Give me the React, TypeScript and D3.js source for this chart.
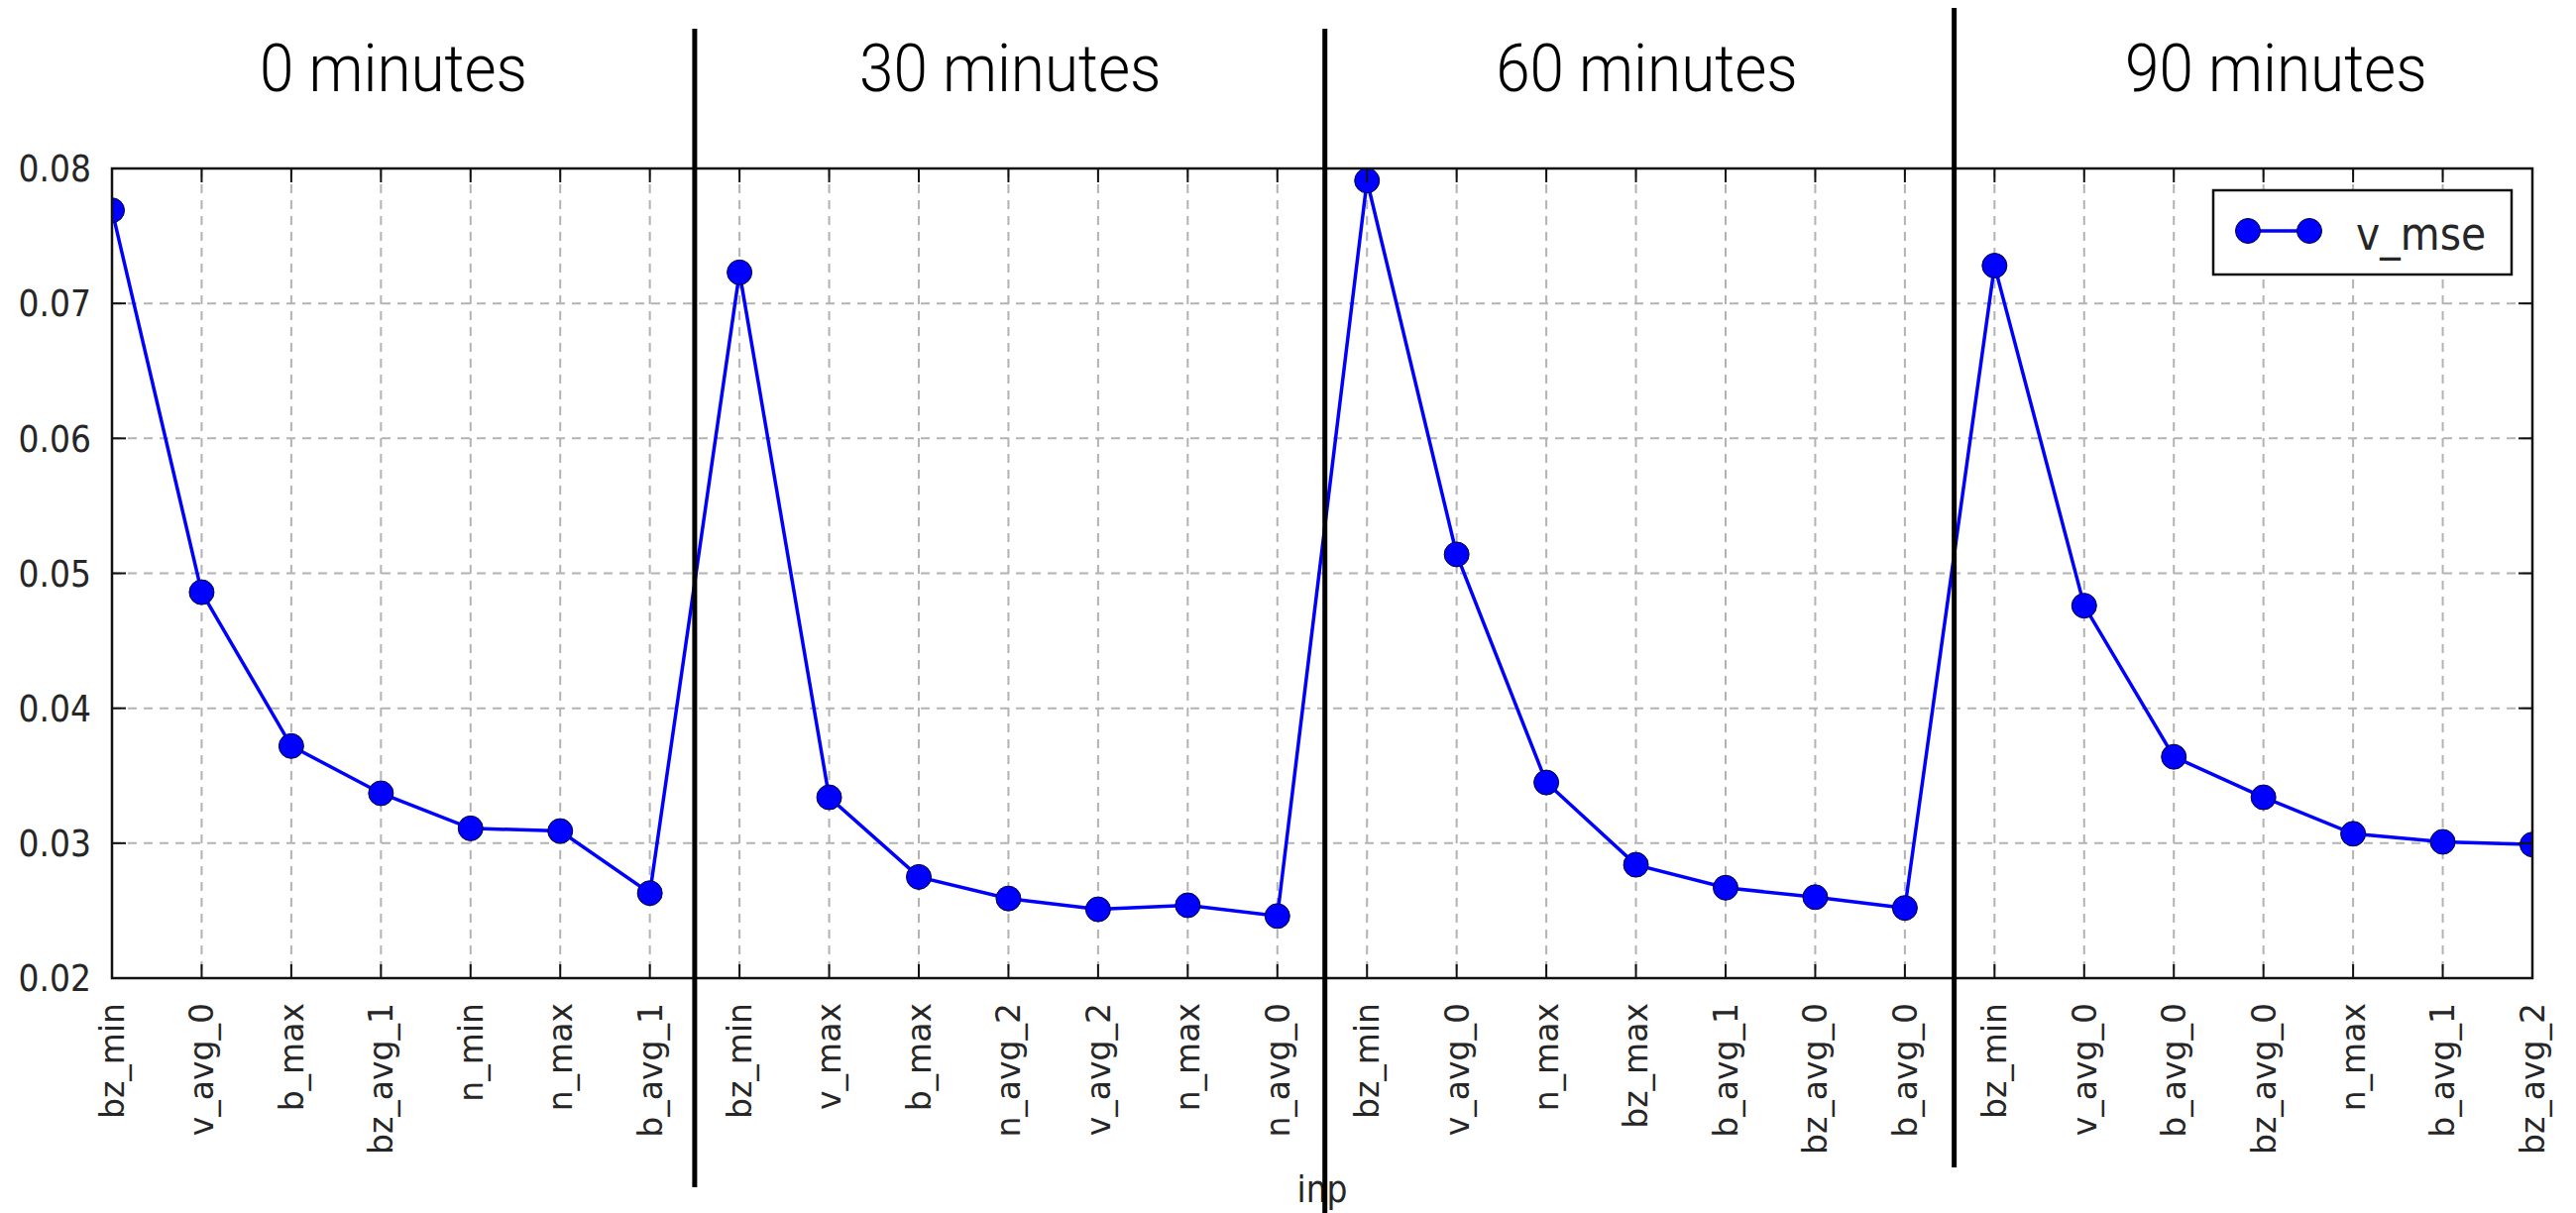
import { useEffect, useRef } from "react";
import * as d3 from "d3";

// feature ranking per lead time (v_mse by input)
const cats0 = ["bz_min", "v_avg_0", "b_max", "bz_avg_1", "n_min", "n_max", "b_avg_1"];
const vals0 = [0.0769, 0.0486, 0.0372, 0.0337, 0.0311, 0.0309, 0.0263];

const cats30 = ["bz_min", "v_max", "b_max", "n_avg_2", "v_avg_2", "n_max", "n_avg_0"];
const vals30 = [0.0723, 0.0334, 0.0275, 0.0259, 0.0251, 0.0254, 0.0246];

const cats60 = ["bz_min", "v_avg_0", "n_max", "bz_max", "b_avg_1", "bz_avg_0", "b_avg_0"];
const vals60 = [0.0791, 0.0514, 0.0345, 0.0284, 0.0267, 0.026, 0.0252];

const cats90 = ["bz_min", "v_avg_0", "b_avg_0", "bz_avg_0", "n_max", "b_avg_1", "bz_avg_2"];
const vals90 = [0.0728, 0.0476, 0.0364, 0.0334, 0.0307, 0.0301, 0.0299];

const yTicks = [0.02, 0.03, 0.04, 0.05, 0.06, 0.07, 0.08];
const panelTitles = ["0 minutes", "30 minutes", "60 minutes", "90 minutes"];
const seriesName = "v_mse";
const xLabel = "inp";

// annotation layout (in x index units)
const titleCenters = [3.14, 10.02, 17.12, 24.14];
const separators = [
  { at: 6.5, top: 29, bottom: 1198 },
  { at: 13.53, top: 29, bottom: 1224 },
  { at: 20.55, top: 8, bottom: 1178 },
];

const WIDTH = 2599;
const HEIGHT = 1224;

const App = () => {
  const svgRef = useRef<SVGSVGElement | null>(null);

  useEffect(() => {
    const categories = [...cats0, ...cats30, ...cats60, ...cats90];
    const values = [...vals0, ...vals30, ...vals60, ...vals90];
    const data = values.map((v, i) => ({ i, v, cat: categories[i] }));

    const left = 113;
    const right = 2555;
    const top = 170;
    const bottom = 987;

    const svg = d3.select(svgRef.current);
    svg.selectAll("*").remove();

    const x = d3.scaleLinear().domain([0, data.length - 1]).range([left, right]);
    const y = d3.scaleLinear().domain([0.02, 0.08]).range([bottom, top]);

    svg
      .append("defs")
      .append("clipPath")
      .attr("id", "plot-clip")
      .append("rect")
      .attr("x", left)
      .attr("y", top)
      .attr("width", right - left)
      .attr("height", bottom - top);

    svg.append("rect").attr("width", WIDTH).attr("height", HEIGHT).attr("fill", "white");

    // grid
    const grid = svg.append("g").attr("stroke", "#b3b3b3").attr("stroke-width", 2).attr("stroke-dasharray", "9,7");
    grid
      .selectAll("line.vg")
      .data(data)
      .enter()
      .append("line")
      .attr("x1", (d) => x(d.i))
      .attr("x2", (d) => x(d.i))
      .attr("y1", top)
      .attr("y2", bottom);
    grid
      .selectAll("line.hg")
      .data(yTicks)
      .enter()
      .append("line")
      .attr("x1", left)
      .attr("x2", right)
      .attr("y1", (d) => y(d))
      .attr("y2", (d) => y(d));

    // series
    const plot = svg.append("g").attr("clip-path", "url(#plot-clip)");
    const line = d3
      .line<{ i: number; v: number }>()
      .x((d) => x(d.i))
      .y((d) => y(d.v));
    plot
      .append("path")
      .datum(data)
      .attr("d", line)
      .attr("fill", "none")
      .attr("stroke", "#0000ff")
      .attr("stroke-width", 3.5);
    plot
      .selectAll("circle")
      .data(data)
      .enter()
      .append("circle")
      .attr("cx", (d) => x(d.i))
      .attr("cy", (d) => y(d.v))
      .attr("r", 12.5)
      .attr("fill", "#0000ff")
      .attr("stroke", "#000033")
      .attr("stroke-width", 1);

    // frame
    svg
      .append("rect")
      .attr("x", left)
      .attr("y", top)
      .attr("width", right - left)
      .attr("height", bottom - top)
      .attr("fill", "none")
      .attr("stroke", "#111")
      .attr("stroke-width", 2.5);

    // inward ticks on all four sides
    const ticks = svg.append("g").attr("stroke", "#111").attr("stroke-width", 2);
    const tickLen = 14;
    data.forEach((d) => {
      ticks.append("line").attr("x1", x(d.i)).attr("x2", x(d.i)).attr("y1", bottom).attr("y2", bottom - tickLen);
      ticks.append("line").attr("x1", x(d.i)).attr("x2", x(d.i)).attr("y1", top).attr("y2", top + tickLen);
    });
    yTicks.forEach((t) => {
      ticks.append("line").attr("x1", left).attr("x2", left + tickLen).attr("y1", y(t)).attr("y2", y(t));
      ticks.append("line").attr("x1", right).attr("x2", right - tickLen).attr("y1", y(t)).attr("y2", y(t));
    });

    // y tick labels
    svg
      .append("g")
      .selectAll("text")
      .data(yTicks)
      .enter()
      .append("text")
      .attr("transform", (d) => `translate(${left - 21},${y(d)}) scale(1,1.12)`)
      .attr("dy", "0.36em")
      .attr("text-anchor", "end")
      .style("font-family", "'DejaVu Sans', sans-serif")
      .style("font-size", "33px")
      .style("fill", "#262626")
      .text((d) => d.toFixed(2));

    // x tick labels (rotated)
    svg
      .append("g")
      .selectAll("text")
      .data(data)
      .enter()
      .append("text")
      .attr("transform", (d) => `translate(${x(d.i)},${bottom + 25}) rotate(-90)`)
      .attr("dy", "0.36em")
      .attr("text-anchor", "end")
      .style("font-family", "'DejaVu Sans', sans-serif")
      .style("font-size", "33px")
      .style("fill", "#262626")
      .text((d) => d.cat);

    // x axis label
    svg
      .append("text")
      .attr("transform", `translate(${(left + right) / 2},1213) scale(1,1.12)`)
      .attr("text-anchor", "middle")
      .style("font-family", "'DejaVu Sans', sans-serif")
      .style("font-size", "33px")
      .style("fill", "#262626")
      .text(xLabel);

    // legend
    const lg = svg.append("g");
    lg.append("rect")
      .attr("x", 2233)
      .attr("y", 192)
      .attr("width", 301)
      .attr("height", 85)
      .attr("fill", "white")
      .attr("stroke", "#111")
      .attr("stroke-width", 2.5);
    lg.append("line")
      .attr("x1", 2268)
      .attr("x2", 2330)
      .attr("y1", 233)
      .attr("y2", 233)
      .attr("stroke", "#0000ff")
      .attr("stroke-width", 3.5);
    [2268, 2330].forEach((cx) => {
      lg.append("circle")
        .attr("cx", cx)
        .attr("cy", 233)
        .attr("r", 12.5)
        .attr("fill", "#0000ff")
        .attr("stroke", "#000033")
        .attr("stroke-width", 1);
    });
    lg.append("text")
      .attr("transform", "translate(2377,252) scale(1,1.12)")
      .style("font-family", "'DejaVu Sans', sans-serif")
      .style("font-size", "41px")
      .style("fill", "#262626")
      .text(seriesName);

    // panel titles
    svg
      .append("g")
      .selectAll("text")
      .data(panelTitles)
      .enter()
      .append("text")
      .attr("transform", (d, i) => `translate(${x(titleCenters[i])},92) scale(0.94,1)`)
      .attr("text-anchor", "middle")
      .style("font-family", "Roboto, 'Open Sans', sans-serif")
      .style("font-weight", 300)
      .style("font-size", "66px")
      .style("fill", "#000")
      .text((d) => d);

    // separators between time panels
    svg
      .append("g")
      .selectAll("line")
      .data(separators)
      .enter()
      .append("line")
      .attr("x1", (d) => x(d.at))
      .attr("x2", (d) => x(d.at))
      .attr("y1", (d) => d.top)
      .attr("y2", (d) => d.bottom)
      .attr("stroke", "#000")
      .attr("stroke-width", 5);
  }, []);

  return (
    <svg
      ref={svgRef}
      width={WIDTH}
      height={HEIGHT}
      style={{ position: "absolute", left: 0, top: 0, display: "block" }}
    />
  );
};

export default App;
